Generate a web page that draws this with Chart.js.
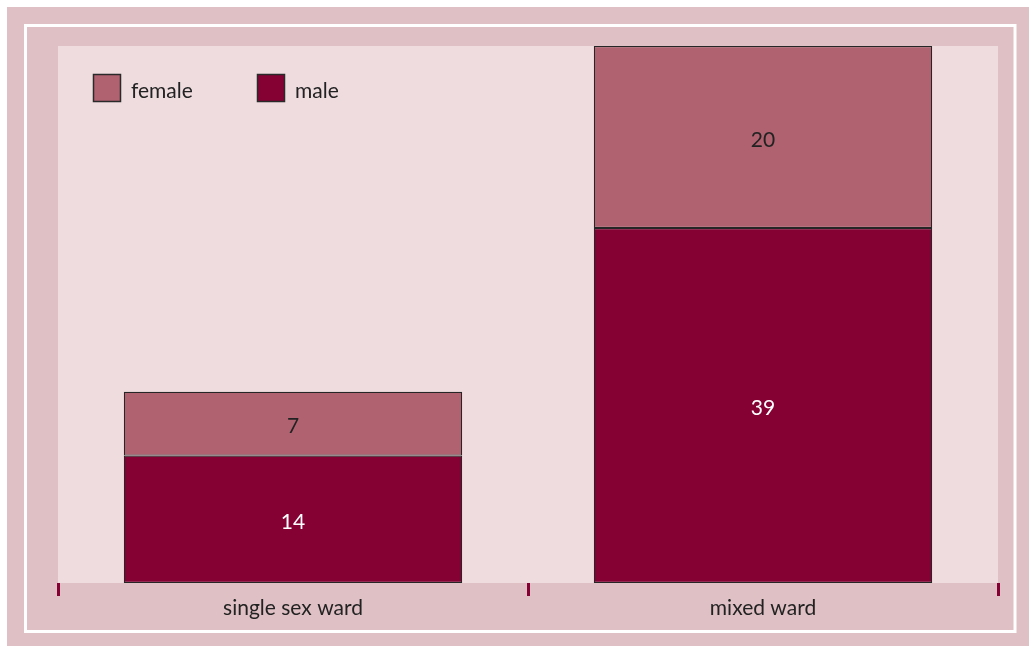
<!DOCTYPE html>
<html>
<head>
<meta charset="utf-8">
<script src="https://cdn.jsdelivr.net/npm/chart.js@4/dist/chart.umd.min.js"></script>
<style>
  html, body { margin: 0; padding: 0; background: #fff; }
  #wrap { width: 1029px; height: 646px; }
</style>
</head>
<body>
<div id="wrap"><canvas id="wardChart" width="1029" height="646"></canvas></div>
<script>
const wardLabels = ['single sex ward', 'mixed ward'];
const maleCounts = [14, 39];
const femaleCounts = [7, 20];
const yMax = 59;

const FONT = 'Lato, "Open Sans", sans-serif';
const OUTER = '#dfc0c4';
const INNER = '#efdcdf';
const MALE = '#850033';
const FEMALE = '#b06270';

// frame: pink panel with a thin white rule, lighter plot area
const framePlugin = {
    id: 'frame',
    beforeDraw(chart) {
        const ctx = chart.ctx;
        const a = chart.chartArea;
        ctx.save();
        ctx.fillStyle = '#fff';
        ctx.fillRect(0, 0, chart.width, chart.height);
        ctx.fillStyle = OUTER;
        ctx.fillRect(7, 7, chart.width - 7, chart.height - 7);
        ctx.strokeStyle = '#fff';
        ctx.lineWidth = 3;
        ctx.strokeRect(25.5, 25.5, 1015 - 25.5, 631.5 - 25.5);
        ctx.fillStyle = INNER;
        ctx.fillRect(a.left, a.top, a.right - a.left, a.bottom - a.top);
        ctx.restore();
    }
};

// segment values written in the middle of each block
const valuePlugin = {
    id: 'values',
    afterDatasetsDraw(chart) {
        const ctx = chart.ctx;
        ctx.save();
        ctx.font = '21px ' + FONT;
        ctx.textAlign = 'center';
        ctx.textBaseline = 'middle';
        chart.data.datasets.forEach((ds, i) => {
            const meta = chart.getDatasetMeta(i);
            meta.data.forEach((bar, j) => {
                ctx.fillStyle = ds.valueColor;
                ctx.fillText(ds.data[j], bar.x, (bar.y + bar.base) / 2 + 3);
            });
        });
        ctx.restore();
    }
};

// legend boxes in the top-left corner of the plot
const legendPlugin = {
    id: 'boxLegend',
    afterDraw(chart) {
        const ctx = chart.ctx;
        const items = [chart.data.datasets[1], chart.data.datasets[0]];
        const xs = [93, 257];
        ctx.save();
        ctx.font = '21px ' + FONT;
        ctx.textBaseline = 'middle';
        items.forEach((ds, i) => {
            ctx.fillStyle = ds.backgroundColor;
            ctx.fillRect(xs[i], 74, 28, 28);
            ctx.strokeStyle = '#2a2a2a';
            ctx.lineWidth = 1.5;
            ctx.strokeRect(xs[i] + 0.5, 74.5, 27, 27);
            ctx.fillStyle = '#222';
            ctx.fillText(ds.label, xs[i] + 38, 91);
        });
        ctx.restore();
    }
};

new Chart(document.getElementById('wardChart'), {
    type: 'bar',
    data: {
        labels: wardLabels,
        datasets: [
            {
                label: 'male',
                data: maleCounts,
                backgroundColor: MALE,
                borderColor: '#262626',
                borderWidth: 1.2,
                borderSkipped: false,
                valueColor: '#fff'
            },
            {
                label: 'female',
                data: femaleCounts,
                backgroundColor: FEMALE,
                borderColor: '#262626',
                borderWidth: 1.2,
                borderSkipped: false,
                valueColor: '#222'
            }
        ]
    },
    options: {
        responsive: false,
        animation: false,
        devicePixelRatio: 1,
        layout: { padding: { left: 58, right: 31, top: 46, bottom: 0 } },
        datasets: { bar: { categoryPercentage: 0.72, barPercentage: 1 } },
        plugins: {
            legend: { display: false },
            tooltip: { enabled: false }
        },
        scales: {
            x: {
                stacked: true,
                border: { display: false },
                grid: {
                    offset: true,
                    drawOnChartArea: false,
                    drawTicks: true,
                    tickLength: 13,
                    tickWidth: 3,
                    tickColor: MALE
                },
                ticks: {
                    color: '#222',
                    padding: 0,
                    font: { family: FONT, size: 21 }
                },
                afterFit(scale) { scale.height = 646 - 583; }
            },
            y: {
                stacked: true,
                display: false,
                min: 0,
                max: yMax
            }
        }
    },
    plugins: [framePlugin, valuePlugin, legendPlugin]
});
</script>
</body>
</html>
